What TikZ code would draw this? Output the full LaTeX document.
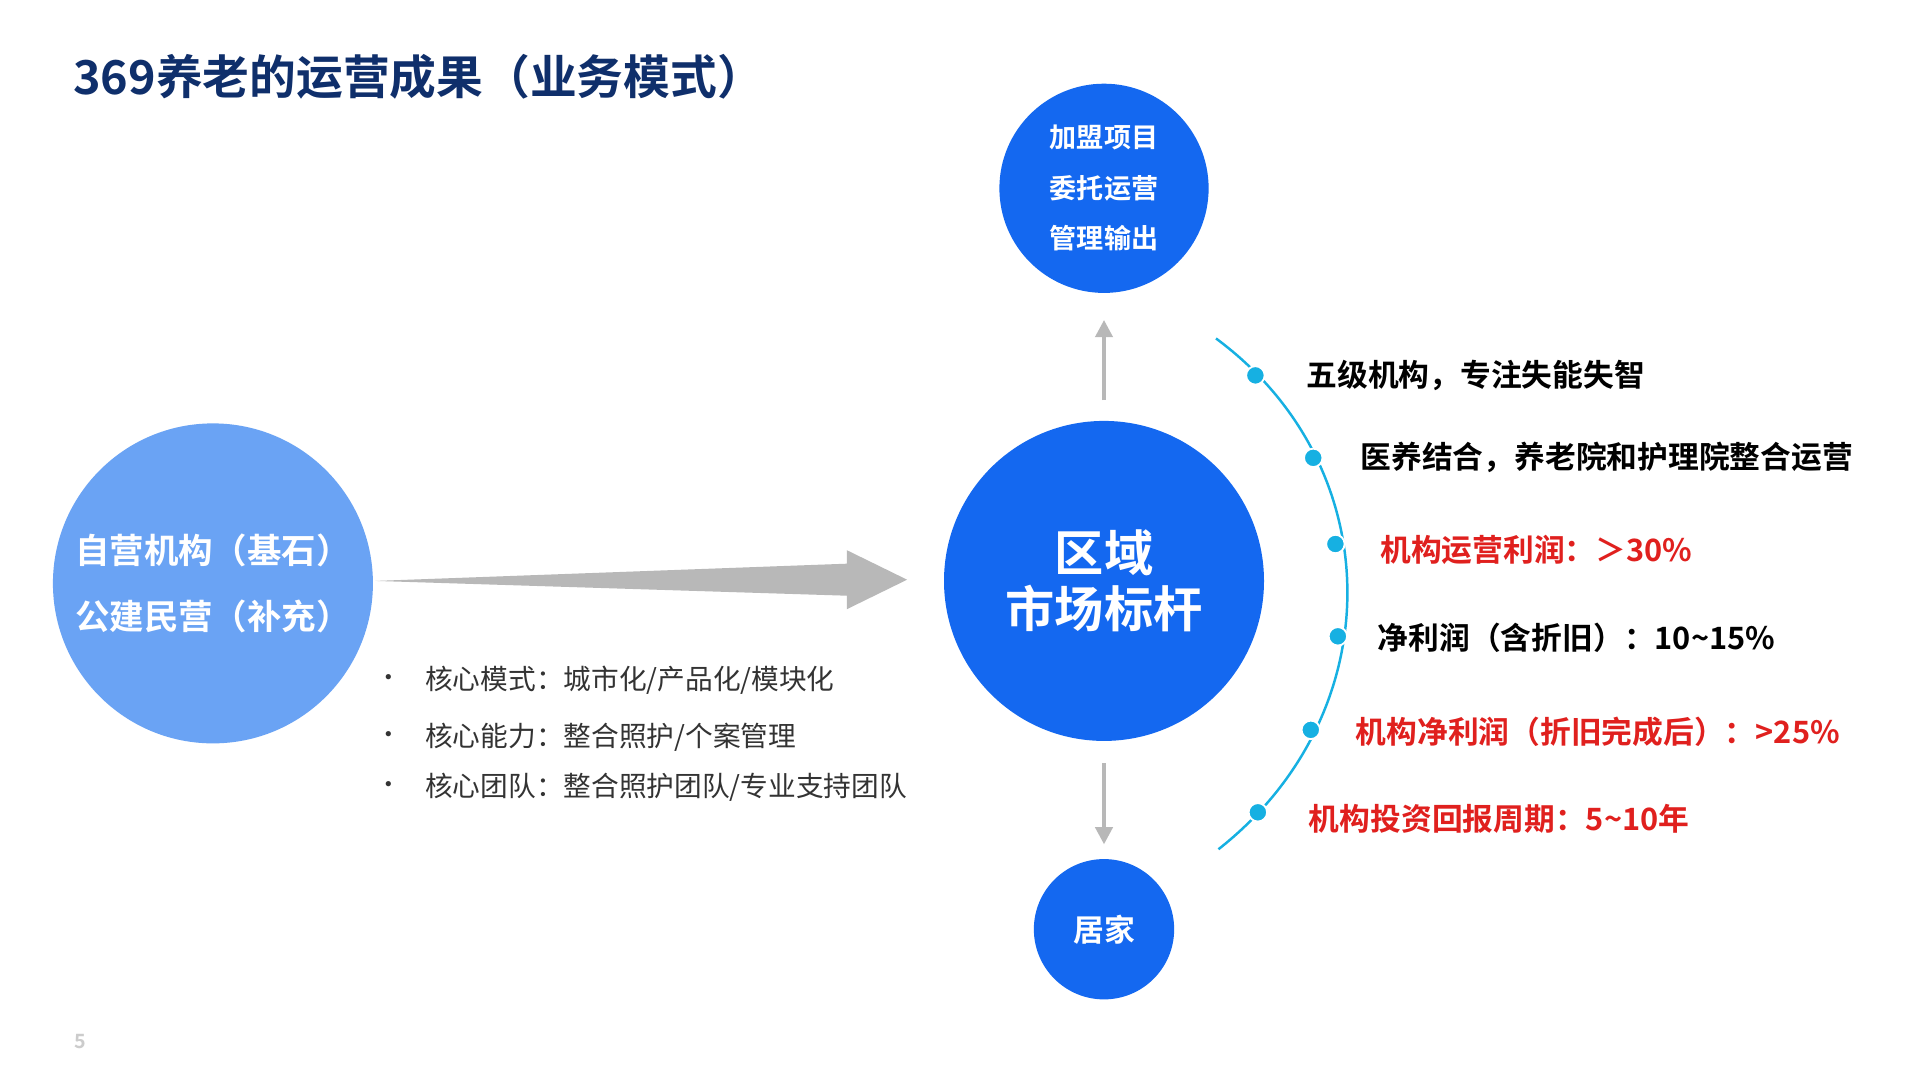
\documentclass[tikz,border=0pt]{standalone}
\usepackage{fontspec}
\setmainfont{Noto Sans CJK SC}
\newfontfamily\cjkb{Noto Sans CJK SC Bold}
\usetikzlibrary{arrows.meta}
\definecolor{navy}{HTML}{0F2F6B}
\definecolor{cblue}{HTML}{1468F0}
\definecolor{lblue}{HTML}{6AA3F4}
\definecolor{dotc}{HTML}{16B0E2}
\definecolor{redt}{HTML}{E0201E}
\definecolor{grayt}{HTML}{333333}
\tikzset{
  circ/.style={circle,fill=cblue,text=white,font=\cjkb,align=center},
  pt/.style={circle,fill=dotc,draw=white,line width=1.5pt,minimum size=15pt,inner sep=0pt},
  lab/.style={anchor=west,font=\cjkb\fontsize{25}{28}\selectfont},
  bul/.style={anchor=west,font=\fontsize{22.5}{26}\selectfont,text=grayt},
  garrow/.style={draw=none,fill=black!28}
}
\begin{document}
\begin{tikzpicture}[x=1pt,y=-1pt]
\useasboundingbox[fill=white] (0,0) rectangle (1560,877.5);
\node[anchor=west,text=navy,font=\cjkb\fontsize{38}{42}\selectfont] (title) at (56,62) {369养老的运营成果（业务模式）};
\node[circ,minimum size=170pt,font=\cjkb\fontsize{22}{41}\selectfont] (top) at (897,153) {加盟项目\\委托运营\\管理输出};
\node[circ,minimum size=260pt,font=\cjkb\fontsize{40}{46}\selectfont] (main) at (897,472) {区域\\市场标杆};
\node[circ,minimum size=114pt,font=\cjkb\fontsize{25}{28}\selectfont] (bot) at (897,755) {居家};
\node[circ,fill=lblue,minimum size=260pt,font=\cjkb\fontsize{28}{53}\selectfont] (left) at (173,474) {自营机构（基石）\\公建民营（补充）};
\fill[garrow] (305,472) -- (688,458) -- (688,447) -- (737,471) -- (688,495) -- (688,484) -- cycle;
\coordinate (ua) at (897,325); \coordinate (ub) at (897,260);
\coordinate (da) at (897,620); \coordinate (db) at (897,686);
\draw[black!28,line width=3pt,-{Triangle[length=14pt,width=14pt]}] (ua) -- (ub);
\draw[black!28,line width=3pt,-{Triangle[length=14pt,width=14pt]}] (da) -- (db);
\foreach \y/\t [count=\i] in {553/{核心模式：城市化/产品化/模块化},599/{核心能力：整合照护/个案管理},640/{核心团队：整合照护团队/专业支持团队}}{
  \node[bul] (b\i) at (342,\y) {\t};
  \node[text=grayt,font=\fontsize{20}{20}\selectfont] (bd\i) at (316,\y) {•};
}
\coordinate (arcA) at (988,275); \coordinate (arcB) at (990,690);
\draw[dotc,line width=2pt] (arcA) .. controls (1130,380) and (1130,580) .. (arcB);
\foreach \x/\y [count=\i] in {1020/305,1067/372,1085/442,1087/517,1065/593,1022/660}{
  \node[pt] (p\i) at (\x,\y) {};
}
\node[lab] (t1) at (1058,305) {五级机构，专注失能失智};
\node[lab] (t2) at (1102,372) {医养结合，养老院和护理院整合运营};
\node[lab,text=redt] (t3) at (1118,447) {机构运营利润：＞30\%};
\node[lab] (t4) at (1116,518) {净利润（含折旧）：10\textasciitilde15\%};
\node[lab,text=redt] (t5) at (1098,595) {机构净利润（折旧完成后）：>25\%};
\node[lab,text=redt] (t6) at (1060,665) {机构投资回报周期：5\textasciitilde10年};
\node[text=black!20,font=\cjkb\fontsize{16}{16}\selectfont] (pg) at (65,846) {5};
\end{tikzpicture}
\end{document}
